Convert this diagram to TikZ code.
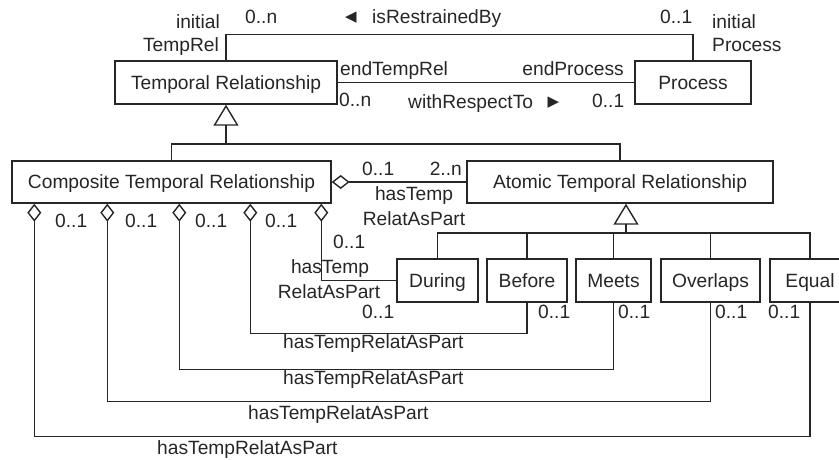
\documentclass[tikz,border=0pt]{standalone}
\usepackage{fontspec}
\setmainfont{Liberation Sans}
\newfontfamily\markfont{DejaVu Sans}
\usetikzlibrary{arrows.meta}
\definecolor{ink}{HTML}{262626}
\newcommand\umlfont{\fontsize{19.2}{23}\selectfont}
\tikzset{
  cls/.style={draw=ink, line width=1.4pt, fill=white, inner sep=0pt,
    text height=13.7pt, text depth=0pt, font=\umlfont, text=ink, minimum height=43pt},
  lbl/.style={inner sep=0pt, font=\umlfont, text=ink},
  dirmark/.style={inner sep=0pt, font=\markfont\fontsize{15}{17}\selectfont, text=ink},
  link/.style={draw=ink, line width=1.4pt},
  gen/.style={link, -{Triangle[open, width=25pt, length=21pt]}},
  agg/.style={link, {Diamond[open, width=14pt, length=18pt]}-},
}
\begin{document}
\begin{tikzpicture}[x=1pt, y=-1pt]
\useasboundingbox (0,0) rectangle (839,459);

% classes
\node[cls, minimum width=222pt] (tr) at (226,82.5) {Temporal Relationship};
\node[cls, minimum width=116pt] (proc) at (693,82.5) {Process};
\node[cls, minimum width=319pt, minimum height=42pt] (comp) at (171.5,182) {Composite Temporal Relationship};
\node[cls, minimum width=306pt, minimum height=42pt] (atom) at (620,182) {Atomic Temporal Relationship};
\node[cls, minimum width=81pt] (during) at (437.5,280.5) {During};
\node[cls, minimum width=80pt] (before) at (527,280.5) {Before};
\node[cls, minimum width=75pt] (meets) at (613.5,280.5) {Meets};
\node[cls, minimum width=99pt] (overlaps) at (710.5,280.5) {Overlaps};
\node[cls, minimum width=80pt] (equal) at (810,280.5) {Equal};

% isRestrainedBy / withRespectTo associations
\draw[link] (tr.north) -- ++(0,-26) -| (proc.north);
\draw[link] (tr.east) -- (proc.west);

% generalization of Temporal Relationship
\coordinate (g1) at (226,144);
\draw[gen] (g1) -- (tr.south);
\draw[link] (comp.north) |- (g1) -| (atom.north);

% generalization of Atomic Temporal Relationship
\coordinate (g2) at (626,233);
\draw[gen] (g2) -- ([xshift=6pt]atom.south);
\draw[link] (during.north) |- (g2) -| (equal.north);
\draw[link] (before.north) -- (before.north |- g2);
\draw[link] (meets.north) -- (meets.north |- g2);
\draw[link] (overlaps.north) -- (overlaps.north |- g2);

% aggregations
\draw[agg] (comp.east) -- (atom.west);
\draw[agg] ([xshift=310pt]comp.south west) |- (during.west);
\draw[agg] ([xshift=239pt]comp.south west) -- ++(0,130) -| (before.south);
\draw[agg] ([xshift=168pt]comp.south west) -- ++(0,166) -| (meets.south);
\draw[agg] ([xshift=96pt]comp.south west) -- ++(0,198) -| (overlaps.south);
\draw[agg] ([xshift=23pt]comp.south west) -- ++(0,233) -| (equal.south);

% top association labels
\node[lbl, anchor=base east] (ti1) at (220,28) {initial};
\node[lbl, anchor=base east] (ti2) at (219,51) {TempRel};
\node[lbl, anchor=base west] (tm1) at (245,23) {0..n};
\node[dirmark] (tarr) at (351,18) {◀};
\node[lbl, anchor=base west] (tname) at (372,23) {isRestrainedBy};
\node[lbl, anchor=base west] (tm2) at (660,23) {0..1};
\node[lbl, anchor=base west] (tp1) at (712,28) {initial};
\node[lbl, anchor=base west] (tp2) at (712,51) {Process};

% middle association labels
\node[lbl, anchor=base west] (me1) at (340,75) {endTempRel};
\node[lbl, anchor=base east] (me2) at (624,75) {endProcess};
\node[lbl, anchor=base west] (mm1) at (339,106) {0..n};
\node[lbl, anchor=base west] (mname) at (408,108) {withRespectTo};
\node[dirmark] (marr) at (553.5,103) {▶};
\node[lbl, anchor=base west] (mm2) at (592,107) {0..1};

% Composite - Atomic aggregation labels
\node[lbl, anchor=base west] (am1) at (362,175) {0..1};
\node[lbl, anchor=base east] (am2) at (462,175) {2..n};
\node[lbl, anchor=base] (an1) at (414,200) {hasTemp};
\node[lbl, anchor=base] (an2) at (414,225) {RelatAsPart};

% multiplicities under Composite
\node[lbl, anchor=base west] (cm1) at (55,227) {0..1};
\node[lbl, anchor=base west] (cm2) at (125,227) {0..1};
\node[lbl, anchor=base west] (cm3) at (195,227) {0..1};
\node[lbl, anchor=base west] (cm4) at (265,227) {0..1};

% During aggregation labels
\node[lbl, anchor=base west] (dm1) at (333,248) {0..1};
\node[lbl, anchor=base] (dn1) at (330,273) {hasTemp};
\node[lbl, anchor=base] (dn2) at (329,298) {RelatAsPart};
\node[lbl, anchor=base west] (dm2) at (362,318) {0..1};

% multiplicities under atomic relationships
\node[lbl, anchor=base west] (bm) at (538,318) {0..1};
\node[lbl, anchor=base west] (mtm) at (618,318) {0..1};
\node[lbl, anchor=base west] (om) at (715,318) {0..1};
\node[lbl, anchor=base west] (em) at (768,318) {0..1};

% role names along the lower aggregations
\node[lbl, anchor=base west] (bn) at (283,348) {hasTempRelatAsPart};
\node[lbl, anchor=base west] (mtn) at (283,384) {hasTempRelatAsPart};
\node[lbl, anchor=base west] (on) at (248,419) {hasTempRelatAsPart};
\node[lbl, anchor=base west] (en) at (157,454) {hasTempRelatAsPart};
\end{tikzpicture}
\end{document}
